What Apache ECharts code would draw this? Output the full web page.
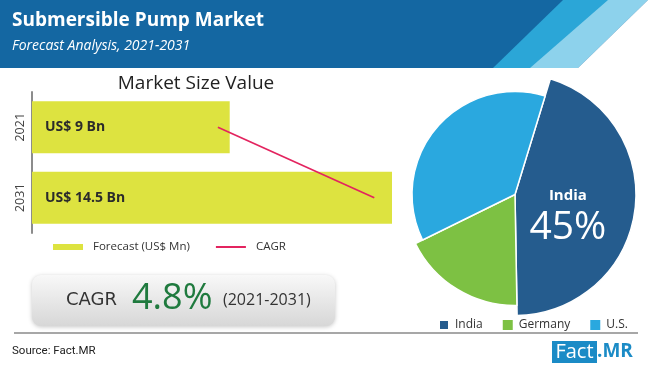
<!DOCTYPE html>
<html>
<head>
<meta charset="utf-8">
<script src="https://cdn.jsdelivr.net/npm/echarts@6/dist/echarts.min.js"></script>
<style>
html,body{margin:0;padding:0;background:#fff;}
#chart{width:650px;height:368px;}
</style>
</head>
<body>
<div id="chart"></div>
<script>
// ---- data ----
const years = ['2021', '2031'];
const marketValues = [9, 14.5];
const barLabels = ['US$ 9 Bn', 'US$ 14.5 Bn'];
const cagrLine = [8.6, 13.9];
const regions = ['India', 'Germany', 'U.S.'];
const shares = [45, 18, 37];
const cagrText = ['CAGR', '4.8%', '(2021-2031)'];

// ---- styles ----
const regionColors = ['#255c8e', '#7dc143', '#2aa8df'];
const regionRadius = [121, 111, 103];
const FONT = 'Open Sans';

const chart = echarts.init(document.getElementById('chart'), null, {renderer: 'canvas'});

function pieSeries(idx) {
  return {
    type: 'pie',
    center: [515, 194.5],
    radius: [0, regionRadius[idx]],
    startAngle: 73,
    clockwise: true,
    silent: true,
    z: 2 + idx,
    label: {show: false},
    labelLine: {show: false},
    emphasis: {disabled: true},
    data: regions.map((n, i) => {
      const item = {name: n, value: shares[i]};
      if (i === idx) {
        item.itemStyle = {color: regionColors[i], borderColor: '#fff', borderWidth: 1.5};
        if (i === 0) {
          item.label = {
            show: true,
            position: 'inside',
            offset: [-10, 14],
            formatter: '{n|{b}}\n{v|{c}%}',
            rich: {
              n: {fontSize: 15, fontWeight: 'bold', color: '#fff', lineHeight: 22, fontFamily: FONT},
              v: {fontSize: 39, color: '#fff', lineHeight: 44, fontFamily: FONT}
            }
          };
        }
      } else {
        item.itemStyle = {color: 'rgba(0,0,0,0)', borderWidth: 0};
      }
      return item;
    })
  };
}

const option = {
  animation: false,
  textStyle: {fontFamily: FONT},
  grid: {left: 32, top: 92, width: 360, height: 141},
  xAxis: {type: 'value', min: 2.3, max: 14.5, show: false},
  yAxis: {
    type: 'category',
    data: years,
    inverse: true,
    axisLine: {lineStyle: {color: '#8c8c8c', width: 2}},
    axisTick: {show: false},
    axisLabel: {rotate: 90, color: '#444', fontSize: 12.5, margin: 5, fontFamily: FONT}
  },
  legend: [{
    data: [
      {name: 'Forecast (US$ Mn)', icon: 'rect'},
      {name: 'CAGR', itemStyle: {color: 'rgba(0,0,0,0)', borderWidth: 0, opacity: 0}}
    ],
    left: 53, top: 241, padding: 0,
    itemWidth: 30, itemHeight: 6, itemGap: 25,
    selectedMode: false,
    textStyle: {fontSize: 11.5, color: '#333', padding: [0, 0, 0, 5], fontFamily: FONT}
  }, {
    data: regions.map((n, i) => ({name: n, itemStyle: {color: regionColors[i]}})),
    left: 438, top: 319, padding: 0,
    icon: 'rect', itemWidth: 10, itemHeight: 10, itemGap: 20,
    selectedMode: false,
    textStyle: {fontSize: 12, color: '#333', padding: [0, 0, 0, 1], fontFamily: FONT}
  }],
  series: [{
    name: 'Forecast (US$ Mn)',
    type: 'bar',
    data: marketValues,
    barWidth: 52,
    itemStyle: {color: '#dde340'},
    silent: true,
    label: {
      show: true,
      position: 'insideLeft',
      distance: 13,
      formatter: p => barLabels[p.dataIndex],
      fontSize: 14, fontWeight: 'bold', color: '#2b2b2b', fontFamily: FONT
    }
  }, {
    name: 'CAGR',
    type: 'line',
    data: cagrLine,
    symbol: 'none',
    silent: true,
    z: 5,
    lineStyle: {color: '#e3245f', width: 1.7},
    itemStyle: {color: '#e3245f'}
  },
    pieSeries(0), pieSeries(1), pieSeries(2)
  ],
  graphic: [
    // header band
    {type: 'rect', shape: {x: 0, y: 0, width: 650, height: 68}, style: {fill: '#1467a2'}, z: 0, silent: true},
    {type: 'polygon', shape: {points: [[563, 0], [610, 0], [532, 68], [493, 68]]}, style: {fill: '#2ba6d7'}, z: 1, silent: true},
    {type: 'polygon', shape: {points: [[608, 0], [648, 0], [578, 68], [530, 68]]}, style: {fill: '#8dd2ec'}, z: 1, silent: true},
    {type: 'polygon', shape: {points: [[648, 0], [650, 0], [650, 68], [578, 68]]}, style: {fill: '#ffffff'}, z: 1, silent: true},
    {type: 'text', x: 12, y: 21, z: 2, silent: true,
      style: {text: 'Submersible Pump Market', fill: '#fff', fontSize: 19, fontWeight: 'bold', fontFamily: FONT, textVerticalAlign: 'middle'}},
    {type: 'text', x: 12, y: 46, z: 2, silent: true,
      style: {text: 'Forecast Analysis, 2021-2031', fill: '#fff', fontSize: 14, fontStyle: 'italic', fontFamily: FONT, textVerticalAlign: 'middle'}},
    // bar chart title
    {type: 'text', x: 196, y: 84, z: 2, silent: true,
      style: {text: 'Market Size Value', fill: '#222', fontSize: 19, fontFamily: FONT, textAlign: 'center', textVerticalAlign: 'middle'}},
    // CAGR box
    {type: 'rect', shape: {x: 32, y: 275, width: 303, height: 51, r: 9}, z: 1, silent: true,
      style: {
        fill: new echarts.graphic.LinearGradient(0, 0, 0, 1, [{offset: 0, color: '#f8f8f8'}, {offset: 1, color: '#d7d7d7'}]),
        shadowBlur: 4, shadowColor: 'rgba(0,0,0,0.22)', shadowOffsetY: 1
      }},
    {type: 'text', x: 66, y: 300, z: 2, silent: true,
      style: {text: cagrText[0], fill: '#333', fontSize: 18, fontFamily: 'DejaVu Sans', textVerticalAlign: 'middle'}},
    {type: 'text', x: 132, y: 299, z: 2, silent: true,
      style: {text: cagrText[1], fill: '#1f7a3e', fontSize: 36, fontFamily: FONT, textVerticalAlign: 'middle'}},
    {type: 'text', x: 223, y: 300, z: 2, silent: true,
      style: {text: cagrText[2], fill: '#333', fontSize: 16, fontFamily: FONT, textVerticalAlign: 'middle'}},
    // footer
    {type: 'line', shape: {x1: 14, y1: 333, x2: 638, y2: 333}, style: {stroke: '#8a8a8a', lineWidth: 1.5}, z: 1, silent: true},
    {type: 'text', x: 12, y: 351, z: 2, silent: true,
      style: {text: 'Source: Fact.MR', fill: '#222', fontSize: 11.5, fontFamily: 'Roboto', textVerticalAlign: 'middle'}},
    {type: 'rect', shape: {x: 552, y: 341, width: 45, height: 22}, style: {fill: '#1b8bc6'}, z: 1, silent: true},
    {type: 'text', x: 574.5, y: 352, z: 2, silent: true,
      style: {text: 'Fact', fill: '#fff', fontSize: 20, fontFamily: FONT, textAlign: 'center', textVerticalAlign: 'middle'}},
    {type: 'text', x: 597, y: 352, z: 2, silent: true,
      style: {text: '.MR', fill: '#1b8bc6', fontSize: 19, fontWeight: 'bold', fontFamily: FONT, textVerticalAlign: 'middle'}}
  ]
};
chart.setOption(option);
</script>
</body>
</html>
